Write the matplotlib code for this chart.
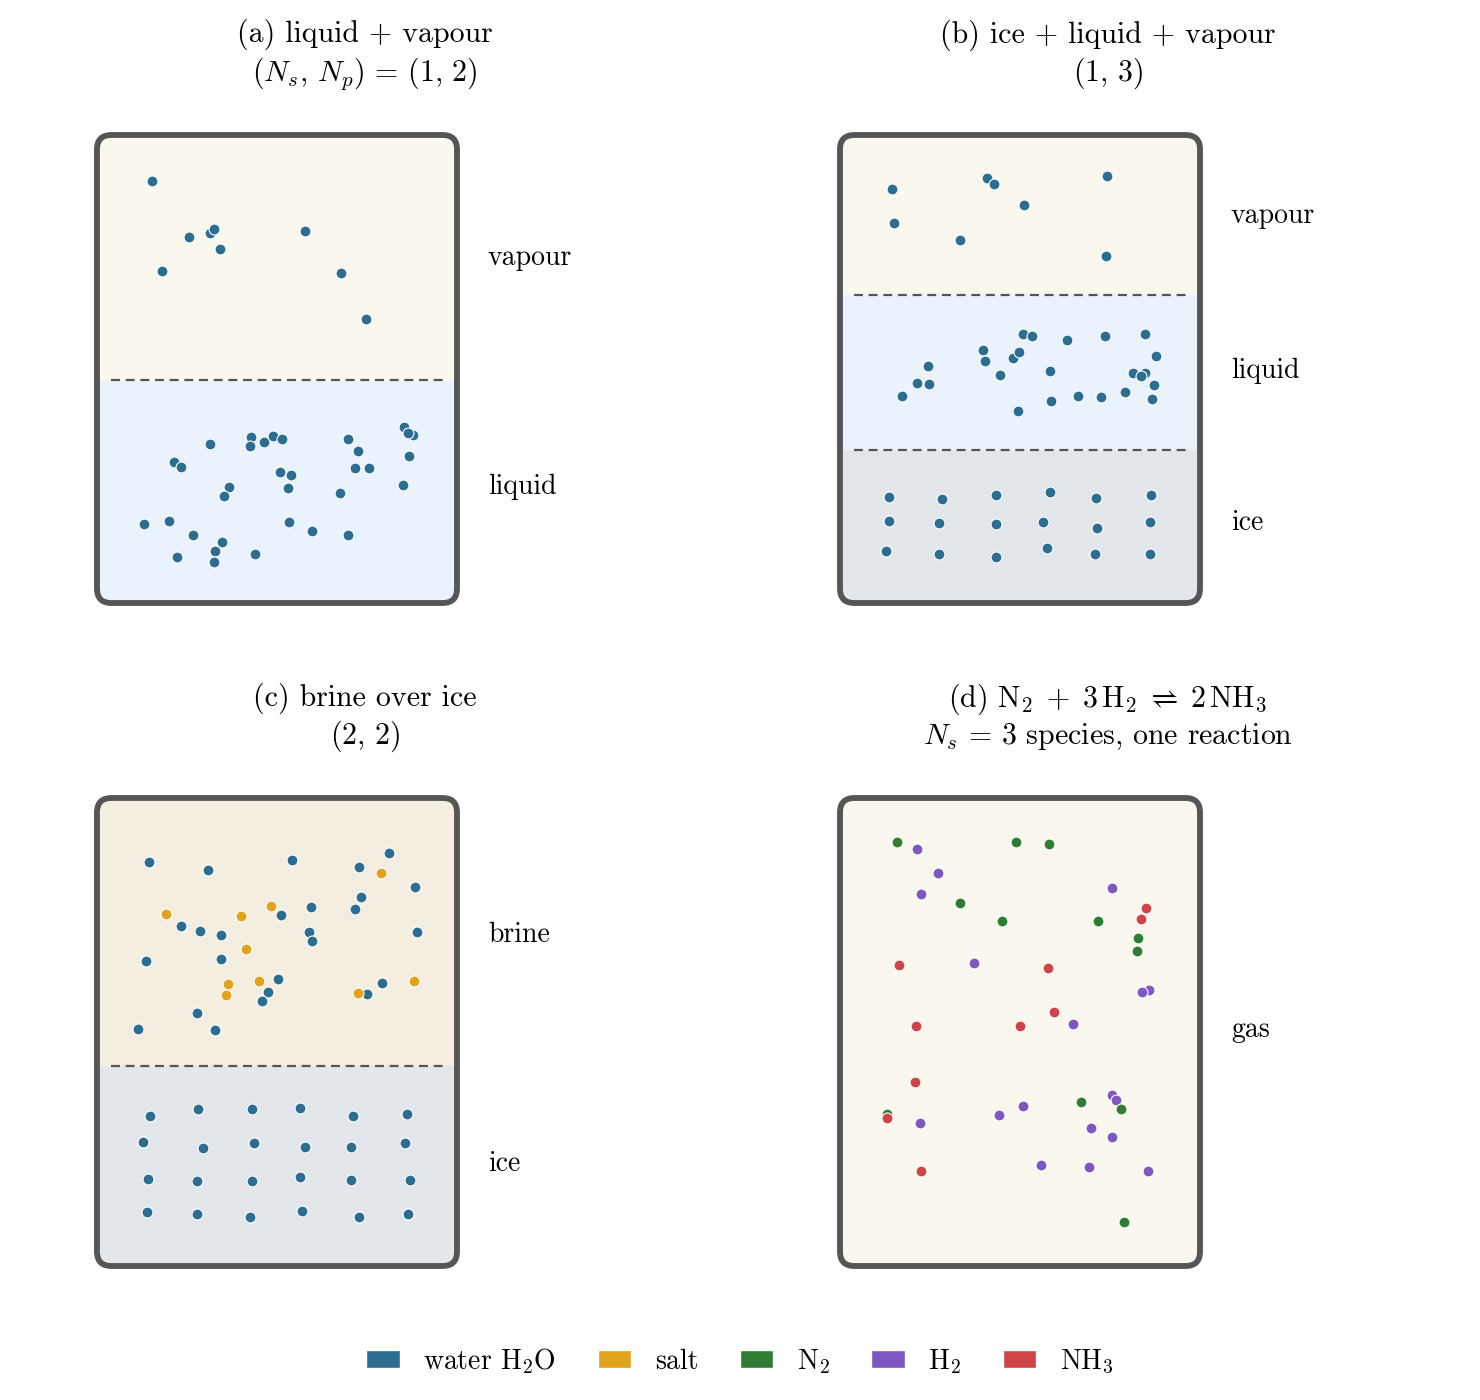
import matplotlib
matplotlib.use('Agg')
import matplotlib.pyplot as plt
from matplotlib.patches import FancyBboxPatch, Rectangle, Patch

plt.rcParams['font.family'] = 'cmr10'
plt.rcParams['mathtext.fontset'] = 'cm'
plt.rcParams['axes.formatter.use_mathtext'] = True

FS = 20
FS_TITLE = 21.5

# colours
C_WATER = '#2c6e91'
C_SALT = '#e1a21c'
C_N2 = '#2e7d32'
C_H2 = '#7e57c2'
C_NH3 = '#cf4446'
PHASE_COLORS = {'vapour': '#faf8ee', 'liquid': '#eaf2fb', 'ice': '#e3e7ec',
                'brine': '#f3eee0', 'gas': '#faf8ee'}

# box is 1 wide, 1.3 tall (box units)
BOX_H = 1.3

# (a) liquid + vapour
a_vap_x = [0.154, 0.256, 0.314, 0.326, 0.343, 0.181, 0.579, 0.679, 0.748]
a_vap_y = [1.171, 1.016, 1.027, 1.039, 0.983, 0.921, 1.033, 0.916, 0.788]
a_liq_x = [0.854, 0.877, 0.863, 0.868, 0.851, 0.698, 0.726, 0.718, 0.756, 0.676,
           0.698, 0.598, 0.534, 0.508, 0.540, 0.531, 0.429, 0.426, 0.465, 0.490,
           0.515, 0.315, 0.215, 0.234, 0.368, 0.354, 0.131, 0.201, 0.268, 0.348,
           0.329, 0.326, 0.223, 0.440]
a_liq_y = [0.490, 0.467, 0.471, 0.408, 0.327, 0.455, 0.421, 0.374, 0.374, 0.305,
           0.188, 0.199, 0.224, 0.363, 0.355, 0.319, 0.461, 0.435, 0.446, 0.464,
           0.455, 0.441, 0.392, 0.377, 0.321, 0.298, 0.219, 0.227, 0.188, 0.170,
           0.144, 0.113, 0.127, 0.135]

# (b) ice + liquid + vapour
b_vap_x = [0.145, 0.151, 0.409, 0.428, 0.512, 0.334, 0.743, 0.740]
b_vap_y = [1.149, 1.055, 1.180, 1.163, 1.105, 1.008, 1.185, 0.963]
b_liq_x = [0.508, 0.534, 0.631, 0.736, 0.848, 0.879, 0.398, 0.404, 0.481, 0.498,
           0.445, 0.584, 0.245, 0.215, 0.248, 0.173, 0.495, 0.587, 0.662, 0.726,
           0.793, 0.815, 0.848, 0.837, 0.873, 0.868]
b_liq_y = [0.747, 0.741, 0.730, 0.741, 0.747, 0.685, 0.702, 0.671, 0.680, 0.696,
           0.633, 0.644, 0.658, 0.610, 0.608, 0.574, 0.533, 0.560, 0.574, 0.571,
           0.585, 0.638, 0.638, 0.630, 0.605, 0.566]
b_ice_x = [0.137, 0.284, 0.434, 0.584, 0.712, 0.865,
           0.137, 0.276, 0.434, 0.565, 0.715, 0.862,
           0.129, 0.276, 0.434, 0.576, 0.709, 0.862]
b_ice_y = [0.294, 0.288, 0.299, 0.308, 0.291, 0.299,
           0.227, 0.221, 0.219, 0.224, 0.208, 0.224,
           0.144, 0.135, 0.127, 0.152, 0.135, 0.135]

# (c) brine over ice
c_wat_x = [0.145, 0.309, 0.543, 0.729, 0.812, 0.884, 0.734, 0.718, 0.595, 0.512,
           0.234, 0.287, 0.345, 0.590, 0.598, 0.890, 0.137, 0.345, 0.504, 0.476,
           0.459, 0.793, 0.751, 0.279, 0.115, 0.329]
c_wat_y = [1.122, 1.099, 1.127, 1.107, 1.146, 1.052, 1.024, 0.991, 0.996, 0.974,
           0.944, 0.930, 0.919, 0.927, 0.902, 0.927, 0.846, 0.852, 0.796, 0.760,
           0.735, 0.785, 0.755, 0.702, 0.658, 0.655]
c_salt_x = [0.790, 0.193, 0.401, 0.484, 0.415, 0.365, 0.359, 0.451, 0.726, 0.881]
c_salt_y = [1.091, 0.977, 0.971, 0.999, 0.880, 0.783, 0.752, 0.791, 0.758, 0.791]
c_ice_x = [0.148, 0.281, 0.431, 0.565, 0.712, 0.862,
           0.129, 0.295, 0.437, 0.579, 0.706, 0.856,
           0.143, 0.279, 0.431, 0.565, 0.706, 0.870,
           0.140, 0.279, 0.426, 0.570, 0.729, 0.865]
c_ice_y = [0.416, 0.435, 0.435, 0.438, 0.416, 0.421,
           0.344, 0.327, 0.341, 0.330, 0.330, 0.341,
           0.241, 0.235, 0.235, 0.246, 0.238, 0.238,
           0.149, 0.144, 0.135, 0.152, 0.135, 0.144]

# (d) ammonia synthesis gas
d_n2_x = [0.159, 0.490, 0.581, 0.334, 0.451, 0.718, 0.829, 0.826, 0.670, 0.781, 0.790, 0.131]
d_n2_y = [1.178, 1.178, 1.171, 1.008, 0.958, 0.958, 0.910, 0.874, 0.456, 0.435, 0.121, 0.421]
d_h2_x = [0.215, 0.273, 0.226, 0.756, 0.373, 0.859, 0.840, 0.648, 0.756, 0.768,
          0.443, 0.509, 0.223, 0.698, 0.756, 0.559, 0.693, 0.856]
d_h2_y = [1.157, 1.091, 1.033, 1.049, 0.843, 0.766, 0.760, 0.671, 0.474, 0.460,
          0.419, 0.444, 0.396, 0.382, 0.357, 0.280, 0.274, 0.263]
d_nh3_x = [0.851, 0.837, 0.165, 0.579, 0.595, 0.212, 0.501, 0.209, 0.131, 0.226]
d_nh3_y = [0.994, 0.963, 0.835, 0.827, 0.705, 0.666, 0.666, 0.510, 0.410, 0.263]

# phase boundaries (box units, from bottom) and labels
a_bounds = [0.619]
a_phases = [('liquid', 0.0, 0.619, 0.322), ('vapour', 0.619, BOX_H, 0.958)]
b_bounds = [0.425, 0.856]
b_phases = [('ice', 0.0, 0.425, 0.222), ('liquid', 0.425, 0.856, 0.644),
            ('vapour', 0.856, BOX_H, 1.075)]
c_bounds = [0.556]
c_phases = [('ice', 0.0, 0.556, 0.283), ('brine', 0.556, BOX_H, 0.919)]
d_bounds = []
d_phases = [('gas', 0.0, BOX_H, 0.656)]

titles = [
    '(a) liquid + vapour\n' + r'$(N_s,\, N_p) \,=\, (1,\, 2)$',
    '(b) ice + liquid + vapour\n' + r'$(1,\, 3)$',
    '(c) brine over ice\n' + r'$(2,\, 2)$',
    r'(d) $\mathrm{N_2 \;+\; 3\,H_2 \;\rightleftharpoons\; 2\,NH_3}$' + '\n'
    + r'$N_s \,=\, 3$ species, one reaction',
]

W, H = 1480, 1400
S = 360  # pixels per box unit
fig = plt.figure(figsize=(W / 100, H / 100), dpi=100)


def make_ax(bx, by):
    left = (bx - 0.05 * S) / W
    bottom = (H - (by + BOX_H * S + 0.05 * S)) / H
    ax = fig.add_axes([left, bottom, 1.589 * S / W, 1.4 * S / H])
    ax.set_xlim(-0.05, 1.539)
    ax.set_ylim(-0.05, 1.35)
    ax.axis('off')
    return ax


def draw_panel(ax, title, phases, bounds, groups):
    box = FancyBboxPatch((0, 0), 1, BOX_H, boxstyle='round,pad=0,rounding_size=0.04',
                         facecolor='none', edgecolor='#555555', linewidth=4.2, zorder=5)
    ax.add_patch(box)
    for name, y0, y1, ylab in phases:
        r = Rectangle((0, y0), 1, y1 - y0, facecolor=PHASE_COLORS[name],
                      edgecolor='none', zorder=0)
        ax.add_patch(r)
        r.set_clip_path(box)
        ax.text(1.086, ylab, name, fontsize=FS, ha='left', va='center')
    for yb in bounds:
        ax.plot([0.04, 0.96], [yb, yb], color='#555555', lw=1.6,
                linestyle=(0, (4, 2.6)), zorder=1)
    for xs, ys, col in groups:
        ax.scatter(xs, ys, s=62, color=col, edgecolor='white', linewidth=0.8, zorder=3)
    ax.set_title(title, fontsize=FS_TITLE, pad=26, linespacing=1.2)


ax_a = make_ax(97, 135)
draw_panel(ax_a, titles[0], a_phases, a_bounds,
           [(a_vap_x, a_vap_y, C_WATER), (a_liq_x, a_liq_y, C_WATER)])
ax_b = make_ax(840, 135)
draw_panel(ax_b, titles[1], b_phases, b_bounds,
           [(b_vap_x, b_vap_y, C_WATER), (b_liq_x, b_liq_y, C_WATER),
            (b_ice_x, b_ice_y, C_WATER)])
ax_c = make_ax(97, 798)
draw_panel(ax_c, titles[2], c_phases, c_bounds,
           [(c_wat_x, c_wat_y, C_WATER), (c_ice_x, c_ice_y, C_WATER),
            (c_salt_x, c_salt_y, C_SALT)])
ax_d = make_ax(840, 798)
draw_panel(ax_d, titles[3], d_phases, d_bounds,
           [(d_h2_x, d_h2_y, C_H2), (d_n2_x, d_n2_y, C_N2), (d_nh3_x, d_nh3_y, C_NH3)])

legend_labels = [r'water $\mathrm{H_2O}$', 'salt', r'$\mathrm{N_2}$', r'$\mathrm{H_2}$', r'$\mathrm{NH_3}$']
legend_colors = [C_WATER, C_SALT, C_N2, C_H2, C_NH3]
handles = [Patch(facecolor=c, edgecolor='white', label=l) for c, l in zip(legend_colors, legend_labels)]
fig.legend(handles=handles, loc='center', bbox_to_anchor=(0.5, 0.028), ncol=5,
           frameon=False, fontsize=FS, handlelength=1.2, handleheight=0.62,
           handletextpad=0.85, columnspacing=1.5)

fig.savefig('out.png', dpi=100)
